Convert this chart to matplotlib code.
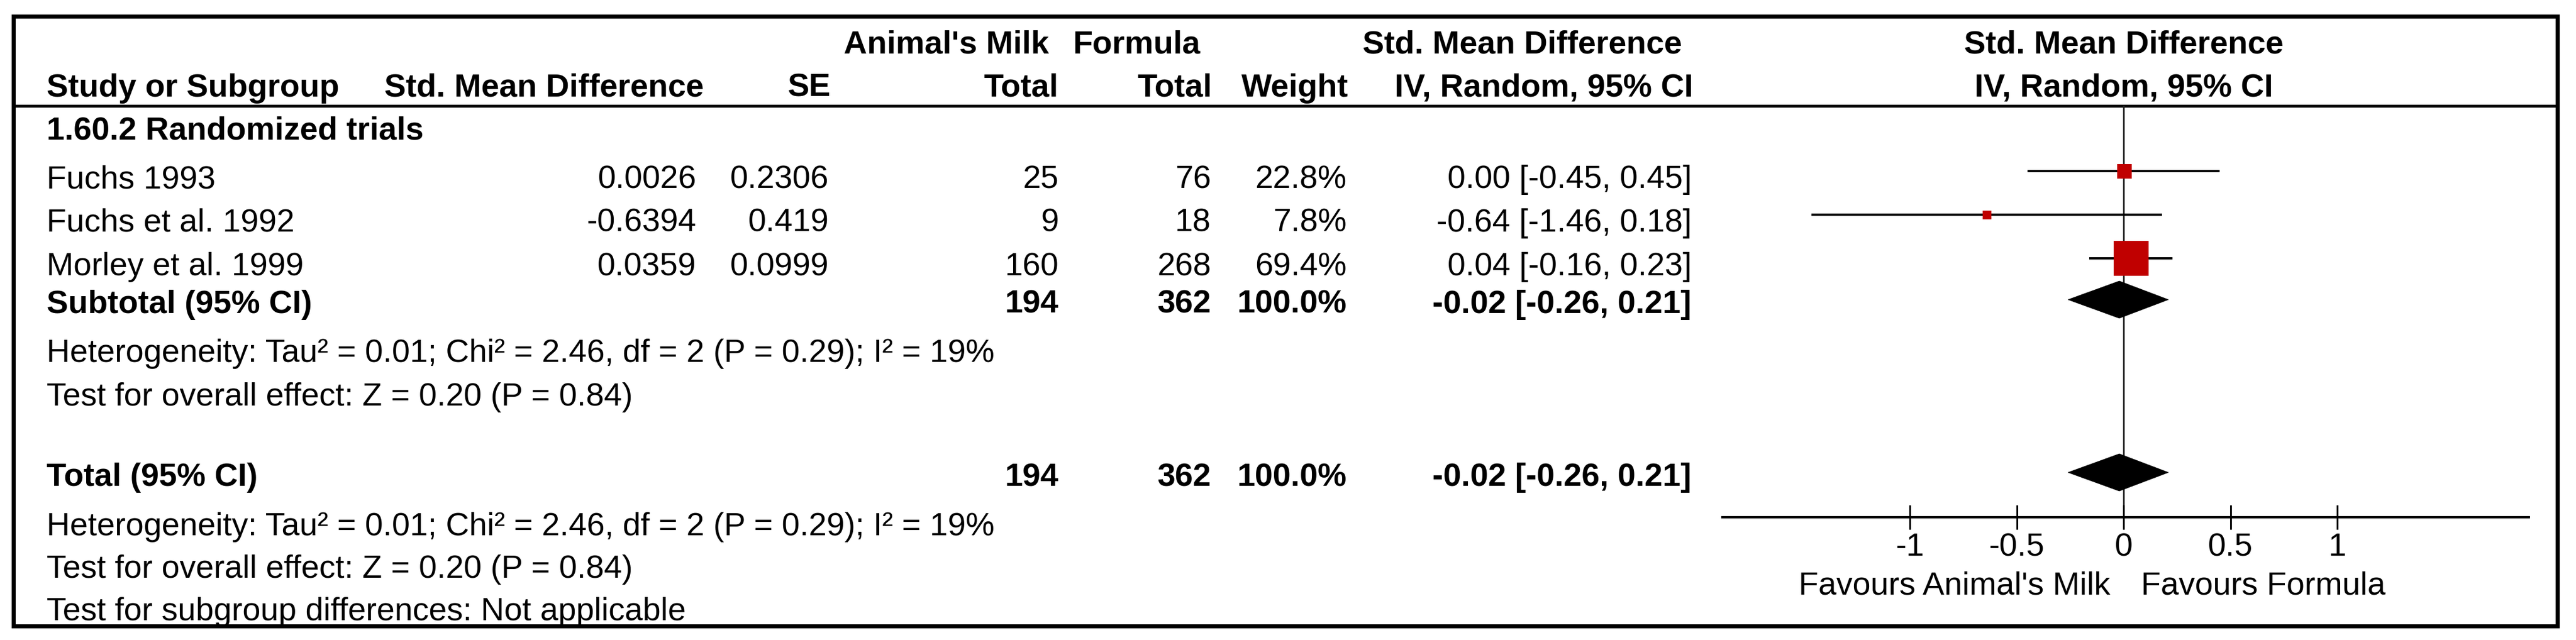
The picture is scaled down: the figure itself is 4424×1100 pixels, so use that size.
import matplotlib
matplotlib.use("Agg")
import matplotlib.pyplot as plt
from matplotlib.patches import Polygon, Rectangle

# ---- data ----
SUBGROUP = "1.60.2 Randomized trials"
STUDIES = ["Fuchs 1993", "Fuchs et al. 1992", "Morley et al. 1999"]
SMD = [0.0026, -0.6394, 0.0359]
SE = [0.2306, 0.419, 0.0999]
MILK_N = [25, 9, 160]
FORMULA_N = [76, 18, 268]
WEIGHT = [22.8, 7.8, 69.4]
EST = [0.00, -0.64, 0.04]
CI_LOW = [-0.45, -1.46, -0.16]
CI_HIGH = [0.45, 0.18, 0.23]

SUB_EST, SUB_LOW, SUB_HIGH = -0.02, -0.26, 0.21
TOT_EST, TOT_LOW, TOT_HIGH = -0.02, -0.26, 0.21
MILK_TOTAL = 194
FORMULA_TOTAL = 362

HETEROGENEITY = "Heterogeneity: Tau\u00b2 = 0.01; Chi\u00b2 = 2.46, df = 2 (P = 0.29); I\u00b2 = 19%"
OVERALL = "Test for overall effect: Z = 0.20 (P = 0.84)"
SUBGROUP_DIFF = "Test for subgroup differences: Not applicable"

TICKS = [-1, -0.5, 0, 0.5, 1]
TICK_LABELS = ["-1", "-0.5", "0", "0.5", "1"]
FAVOURS_LEFT = "Favours Animal's Milk"
FAVOURS_RIGHT = "Favours Formula"

# ---- layout (pixels of a 4424x1100 canvas) ----
W, H = 4424, 1100
FONT = ["Liberation Sans", "DejaVu Sans"]
FS = 40
RED = "#C00000"

BOX_PX = [25, 15, 60]          # square side per study
ROW_BASE = [323, 398, 473]     # text baselines of study rows
MARK_OFF = 29                  # marker centre above baseline

plt.rcParams["font.family"] = FONT

fig = plt.figure(figsize=(W / 100, H / 100), dpi=100)
ax = fig.add_axes([0, 0, 1, 1])
ax.set_xlim(0, W)
ax.set_ylim(H, 0)
ax.axis("off")


def txt(x, y, s, ha="left", bold=False):
    ax.text(x, y, s, ha=ha, va="baseline", fontsize=FS,
            fontweight="bold" if bold else "normal", color="black")


# frame
ax.add_patch(Rectangle((23, 28), 4369, 1048, fill=False, lw=5, ec="black",
                       joinstyle="miter"))
ax.plot([23, 4392], [182, 182], color="black", lw=3.6)

# header
txt(1625, 91, "Animal's Milk", ha="center", bold=True)
txt(1952, 91, "Formula", ha="center", bold=True)
txt(2614, 91, "Std. Mean Difference", ha="center", bold=True)
txt(3647, 91, "Std. Mean Difference", ha="center", bold=True)
txt(80, 166, "Study or Subgroup", bold=True)
txt(660, 166, "Std. Mean Difference", bold=True)
txt(1426, 166, "SE", ha="right", bold=True)
txt(1818, 166, "Total", ha="right", bold=True)
txt(2082, 166, "Total", ha="right", bold=True)
txt(2316, 166, "Weight", ha="right", bold=True)
txt(2908, 166, "IV, Random, 95% CI", ha="right", bold=True)
txt(3647, 166, "IV, Random, 95% CI", ha="center", bold=True)

txt(80, 240, SUBGROUP, bold=True)

for i, name in enumerate(STUDIES):
    y = ROW_BASE[i]
    txt(80, y, name)
    txt(1196, y, f"{SMD[i]:g}", ha="right")
    txt(1424, y, f"{SE[i]:g}", ha="right")
    txt(1818, y, str(MILK_N[i]), ha="right")
    txt(2080, y, str(FORMULA_N[i]), ha="right")
    txt(2313, y, f"{WEIGHT[i]:.1f}%", ha="right")
    txt(2905, y, f"{EST[i]:.2f} [{CI_LOW[i]:.2f}, {CI_HIGH[i]:.2f}]", ha="right")

# subtotal block
txt(80, 538, "Subtotal (95% CI)", bold=True)
txt(1818, 538, str(MILK_TOTAL), ha="right", bold=True)
txt(2080, 538, str(FORMULA_TOTAL), ha="right", bold=True)
txt(2313, 538, f"{sum(WEIGHT):.1f}%", ha="right", bold=True)
txt(2905, 538, f"{SUB_EST:.2f} [{SUB_LOW:.2f}, {SUB_HIGH:.2f}]", ha="right", bold=True)
txt(80, 622, HETEROGENEITY)
txt(80, 697, OVERALL)

# total block
txt(80, 835, "Total (95% CI)", bold=True)
txt(1818, 835, str(MILK_TOTAL), ha="right", bold=True)
txt(2080, 835, str(FORMULA_TOTAL), ha="right", bold=True)
txt(2313, 835, f"{sum(WEIGHT):.1f}%", ha="right", bold=True)
txt(2905, 835, f"{TOT_EST:.2f} [{TOT_LOW:.2f}, {TOT_HIGH:.2f}]", ha="right", bold=True)
txt(80, 920, HETEROGENEITY)
txt(80, 993, OVERALL)
txt(80, 1066, SUBGROUP_DIFF)

# ---- forest panel ----
X0, X1, ZERO, UNIT = 2958, 4343, 3647, 367
TOP, AXIS_Y = 182, 889
fx = fig.add_axes([X0 / W, (H - AXIS_Y) / H, (X1 - X0) / W, (AXIS_Y - TOP) / H])
fx.set_xlim((X0 - ZERO) / UNIT, (X1 - ZERO) / UNIT)
fx.set_ylim(AXIS_Y, TOP)
fx.patch.set_alpha(0)
for side in ["top", "left", "right"]:
    fx.spines[side].set_visible(False)
fx.spines["bottom"].set_linewidth(2.9)
fx.set_yticks([])
fx.set_xticks(TICKS)
fx.set_xticklabels(TICK_LABELS)
fx.tick_params(axis="x", direction="inout", length=30, width=2.2,
               labelsize=FS, pad=4)

fx.axvline(0, color="#222222", lw=2.0, zorder=1)

for i in range(len(STUDIES)):
    y = ROW_BASE[i] - MARK_OFF
    fx.plot([CI_LOW[i], CI_HIGH[i]], [y, y], color="black", lw=2.8,
            solid_capstyle="butt", zorder=2)
    fx.plot([SMD[i]], [y], marker="s", ms=BOX_PX[i] * 0.72, color=RED,
            mec=RED, mew=0, zorder=3)


def diamond(est, lo, hi, yc, half=32):
    fx.add_patch(Polygon([(lo, yc), (est, yc - half), (hi, yc), (est, yc + half)],
                         closed=True, fc="black", ec="black", lw=0.5, zorder=3))


diamond(SUB_EST, SUB_LOW, SUB_HIGH, 515)
diamond(TOT_EST, TOT_LOW, TOT_HIGH, 812)

txt(ZERO - 23, 1022, FAVOURS_LEFT, ha="right")
txt(ZERO + 30, 1022, FAVOURS_RIGHT, ha="left")

fig.savefig("out.png", dpi=100)
